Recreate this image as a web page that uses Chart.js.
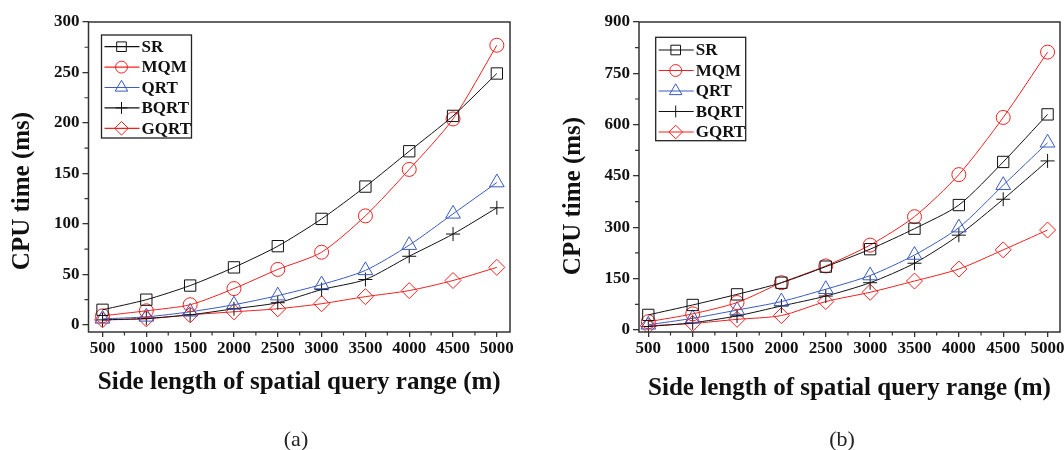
<!DOCTYPE html>
<html><head><meta charset="utf-8">
<script src="https://cdn.jsdelivr.net/npm/chart.js@4/dist/chart.umd.min.js"></script>
<style>
html,body{margin:0;padding:0;background:#fff;overflow:hidden;width:1064px;height:450px;position:relative;}
.wrap{position:absolute;top:0;height:450px;}
#wa{left:0;width:535px;}
#wb{left:535px;width:545px;}
.cap{position:absolute;font-family:'Liberation Serif','Times New Roman',serif;font-size:22px;color:#222;transform:translate(-50%,-50%);white-space:nowrap;}
</style></head><body>
<div class="wrap" id="wa"><canvas id="ca" width="535" height="450"></canvas></div>
<div class="wrap" id="wb"><canvas id="cb" width="545" height="450"></canvas></div>
<div class="cap" style="left:296px;top:439px;">(a)</div>
<div class="cap" style="left:842px;top:439px;">(b)</div>
<script>
// ---- data ----
const xValues = [500, 1000, 1500, 2000, 2500, 3000, 3500, 4000, 4500, 5000];
const seriesNames = ['SR', 'MQM', 'QRT', 'BQRT', 'GQRT'];
const yTicksA = [0, 50, 100, 150, 200, 250, 300];
const yTicksB = [0, 150, 300, 450, 600, 750, 900];
const xTicks = [500, 1000, 1500, 2000, 2500, 3000, 3500, 4000, 4500, 5000];
// chart (a)
const srA   = [15, 25, 39, 57, 78, 105, 137, 172, 207, 249];
const mqmA  = [9, 14, 20, 36, 55, 72, 108, 154, 204, 277];
const qrtA  = [6, 8, 13, 20, 29, 40, 54, 79, 110, 141];
const bqrtA = [5, 6.5, 10, 16, 22, 35, 45, 68, 90, 116];
const gqrtA = [5, 6, 10, 13, 16, 21, 28, 34, 44, 57];
// chart (b)
const srB   = [44, 73, 104, 138, 185, 236, 296, 365, 491, 630];
const mqmB  = [24, 47, 80, 138, 187, 248, 331, 454, 621, 812];
const qrtB  = [15, 34, 58, 83, 119, 159, 219, 299, 423, 547];
const bqrtB = [10, 21, 41, 70, 99, 138, 195, 277, 382, 494];
const gqrtB = [12, 19, 31, 42, 83, 110, 143, 178, 234, 292];
const yTitle = 'CPU time (ms)';
const xTitle = 'Side length of spatial query range (m)';

// ---- styles ----
const SERIF = "'Liberation Serif','Times New Roman',serif";
const styles = [
  {color: '#111111', pointStyle: 'rect', r: 8},
  {color: '#f02020', pointStyle: 'circle', r: 7},
  {color: '#3a5bc0', pointStyle: 'triangle', r: 8.5},
  {color: '#111111', pointStyle: 'cross', r: 7},
  {color: '#f02020', pointStyle: 'rectRot', r: 8}
];

function drawMarker(ctx, style, x, y, r) {
  ctx.beginPath();
  if (style === 'rect') {
    const s = Math.SQRT1_2 * r;
    ctx.rect(x - s, y - s, 2 * s, 2 * s);
  } else if (style === 'circle') {
    ctx.arc(x, y, r, 0, Math.PI * 2);
  } else if (style === 'triangle') {
    for (let i = 0; i < 3; i++) {
      const a = i * 2 * Math.PI / 3;
      const px = x + Math.sin(a) * r, py = y - Math.cos(a) * r;
      i ? ctx.lineTo(px, py) : ctx.moveTo(px, py);
    }
    ctx.closePath();
  } else if (style === 'cross') {
    ctx.moveTo(x - r, y); ctx.lineTo(x + r, y);
    ctx.moveTo(x, y - r); ctx.lineTo(x, y + r);
  } else if (style === 'rectRot') {
    ctx.moveTo(x - r, y); ctx.lineTo(x, y - r); ctx.lineTo(x + r, y); ctx.lineTo(x, y + r);
    ctx.closePath();
  }
  ctx.stroke();
}

const framePlugin = {
  id: 'frame',
  afterDraw(chart, args, opts) {
    const {ctx, chartArea: a, scales} = chart;
    ctx.save();
    ctx.strokeStyle = '#333';
    ctx.lineWidth = 1.5;
    ctx.strokeRect(a.left, a.top, a.right - a.left, a.bottom - a.top);
    // minor ticks
    ctx.lineWidth = 1.2;
    ctx.beginPath();
    const xt = opts.xTicks, yt = opts.yTicks;
    for (let i = 0; i < xt.length - 1; i++) {
      const px = scales.x.getPixelForValue((xt[i] + xt[i + 1]) / 2);
      ctx.moveTo(px, a.bottom); ctx.lineTo(px, a.bottom + 3.5);
    }
    for (let i = 0; i < yt.length - 1; i++) {
      const py = scales.y.getPixelForValue((yt[i] + yt[i + 1]) / 2);
      ctx.moveTo(a.left, py); ctx.lineTo(a.left - 4, py);
    }
    ctx.stroke();
    // y title
    ctx.save();
    ctx.translate(opts.yTitlePos.x, opts.yTitlePos.y);
    ctx.rotate(-Math.PI / 2);
    ctx.fillStyle = '#111';
    ctx.font = "bold 25px " + SERIF;
    ctx.textAlign = 'center';
    ctx.textBaseline = 'middle';
    ctx.fillText(yTitle, 0, 0);
    ctx.restore();
    // legend
    const L = opts.legend;
    ctx.lineWidth = 1.3;
    ctx.strokeStyle = '#222';
    ctx.strokeRect(L.x, L.y, L.w, L.h);
    chart.data.datasets.forEach((ds, i) => {
      const cy = L.y + L.first + i * L.step;
      ctx.strokeStyle = ds.borderColor;
      ctx.lineWidth = 1.2;
      ctx.beginPath();
      ctx.moveTo(L.x + 3, cy); ctx.lineTo(L.x + 38, cy);
      ctx.stroke();
      ctx.lineWidth = 1;
      drawMarker(ctx, ds.pointStyle, L.x + 20, cy, ds.pointRadius * 0.85);
      ctx.fillStyle = '#111';
      ctx.font = "bold 17px " + SERIF;
      ctx.textBaseline = 'middle';
      ctx.textAlign = 'left';
      ctx.fillText(ds.label, L.x + 40, cy + 1);
    });
    ctx.restore();
  }
};

function makeChart(id, series, yTicks, yMin, yMax, xMin, xMax, W, area, legend, yTitlePos, xTitlePad) {
  const datasets = series.map((vals, i) => ({
    label: seriesNames[i],
    data: vals.map((v, k) => ({x: xValues[k], y: v})),
    borderColor: styles[i].color,
    backgroundColor: 'rgba(0,0,0,0)',
    borderWidth: 1,
    pointStyle: styles[i].pointStyle,
    pointRadius: styles[i].r,
    pointBorderWidth: 1,
    pointBackgroundColor: 'rgba(0,0,0,0)',
    pointBorderColor: styles[i].color,
    tension: 0.25,
    fill: false
  }));
  return new Chart(document.getElementById(id), {
    type: 'line',
    data: {labels: xValues, datasets: datasets},
    options: {
      responsive: false,
      animation: false,
      layout: {padding: {top: area.top, right: W - area.right, left: 0, bottom: 0}},
      plugins: {legend: {display: false}, tooltip: {enabled: false},
        frame: {xTicks: xTicks, yTicks: yTicks, legend: legend, yTitlePos: yTitlePos}},
      scales: {
        x: {
          type: 'linear', min: xMin, max: xMax,
          afterBuildTicks: s => { s.ticks = xTicks.map(v => ({value: v})); },
          afterFit: s => { s.height = 450 - area.bottom; },
          grid: {display: true, drawOnChartArea: false, drawTicks: true, tickLength: 5, color: '#333', lineWidth: 1.3},
          border: {display: false},
          ticks: {color: '#111', font: {family: SERIF, weight: 'bold', size: 17}, padding: 1, maxRotation: 0, autoSkip: false,
                  callback: v => String(v)},
          title: {display: true, text: xTitle, color: '#111', font: {family: SERIF, weight: 'bold', size: 25},
                  padding: {top: 0, bottom: xTitlePad}}
        },
        y: {
          type: 'linear', min: yMin, max: yMax,
          afterBuildTicks: s => { s.ticks = yTicks.map(v => ({value: v})); },
          afterFit: s => { s.width = area.left; },
          grid: {display: true, drawOnChartArea: false, drawTicks: true, tickLength: 6, color: '#333', lineWidth: 1.3},
          border: {display: false},
          ticks: {color: '#111', font: {family: SERIF, weight: 'bold', size: 17}, padding: 3, autoSkip: false,
                  callback: v => String(v)},
          title: {display: false}
        }
      }
    },
    plugins: [framePlugin]
  });
}

makeChart('ca', [srA, mqmA, qrtA, bqrtA, gqrtA], yTicksA, -7, 300, 340, 5150, 535,
  {left: 88.5, top: 22, right: 510, bottom: 332},
  {x: 101.5, y: 35, w: 90, h: 103, first: 11.7, step: 20.4}, {x: 22.5, y: 191}, 52);
makeChart('cb', [srB, mqmB, qrtB, bqrtB, gqrtB], yTicksB, -6, 900, 395, 5140, 545,
  {left: 104, top: 22, right: 525, bottom: 332},
  {x: 120.7, y: 37.3, w: 90, h: 103.4, first: 12.7, step: 20.5}, {x: 39, y: 196}, 46);
</script>
</body></html>
